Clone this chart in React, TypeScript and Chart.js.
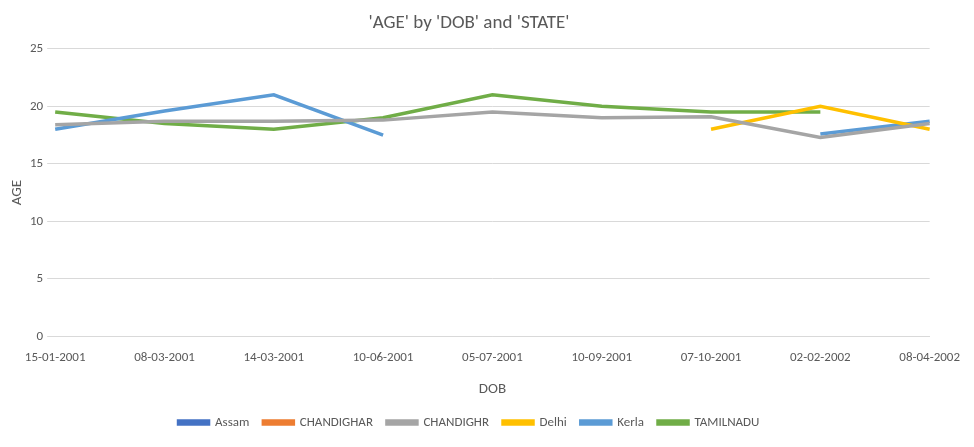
import React, { useEffect, useRef } from "react";
import { Chart, registerables } from "chart.js";
Chart.register(...registerables);

const categories = ["15-01-2001","08-03-2001","14-03-2001","10-06-2001","05-07-2001","10-09-2001","07-10-2001","02-02-2002","08-04-2002"];
const assam: (number|null)[] = [null,null,null,null,null,null,null,null,null];
const chandighar: (number|null)[] = [null,null,null,null,null,null,null,null,null];
const chandighr: (number|null)[] = [18.4,18.7,18.7,18.8,19.5,19.0,19.1,17.3,18.5];
const delhi: (number|null)[] = [null,null,null,null,null,null,18.0,20.0,18.0];
const kerla: (number|null)[] = [18.0,19.6,21.0,17.5,null,null,null,17.6,18.7];
const tamilnadu: (number|null)[] = [19.5,18.5,18.0,19.0,21.0,20.0,19.5,19.5,null];
const yTicks = [0,5,10,15,20,25];

const FONT = "Carlito, Calibri, 'Liberation Sans', sans-serif";

export default function App() {
  const ref = useRef<HTMLCanvasElement>(null);
  useEffect(() => {
    const mk = (label: string, data: (number|null)[], color: string) => ({
      label, data, borderColor: color, backgroundColor: color, borderWidth: 3.5,
      pointRadius: 0, tension: 0, spanGaps: false,
    });
    const chart = new Chart(ref.current!, {
      type: "line",
      data: {
        labels: categories,
        datasets: [
          mk("Assam", assam, "#4472C4"),
          mk("CHANDIGHAR", chandighar, "#ED7D31"),
          mk("CHANDIGHR", chandighr, "#A5A5A5"),
          mk("Delhi", delhi, "#FFC000"),
          mk("Kerla", kerla, "#5B9BD5"),
          mk("TAMILNADU", tamilnadu, "#70AD47"),
        ],
      },
      options: {
        animation: false, responsive: false,
        layout: { padding: { left: 0, right: 36, top: 0, bottom: 0 } },
        plugins: {
          title: { display: true, text: "'AGE' by 'DOB' and 'STATE'", color: "#595959", font: { family: FONT, size: 19, weight: "normal" }, padding: { top: 4, bottom: 14 } },
          legend: { position: "bottom", labels: { color: "#595959", font: { family: FONT, size: 13 }, boxWidth: 30, boxHeight: 3, padding: 14 } },
          tooltip: { enabled: false },
        },
        scales: {
          x: {
            offset: false,
            grid: { display: false },
            border: { color: "#D9D9D9" },
            ticks: { color: "#595959", font: { family: FONT, size: 13 }, maxRotation: 0, autoSkip: false, padding: 6 },
            title: { display: true, text: "DOB", color: "#595959", font: { family: FONT, size: 15 }, padding: { top: 8, bottom: 4 } },
          },
          y: {
            min: 0, max: 25,
            afterBuildTicks: (s: any) => { s.ticks = yTicks.map(v => ({ value: v })); },
            grid: { color: "#D9D9D9" },
            border: { display: false },
            ticks: { color: "#595959", font: { family: FONT, size: 13 }, padding: 4 },
            title: { display: true, text: "AGE", color: "#595959", font: { family: FONT, size: 15 }, padding: { top: 0, bottom: 0 } },
          },
        },
      },
    } as any);
    return () => chart.destroy();
  }, []);
  return <canvas ref={ref} width={958} height={431} />;
}
